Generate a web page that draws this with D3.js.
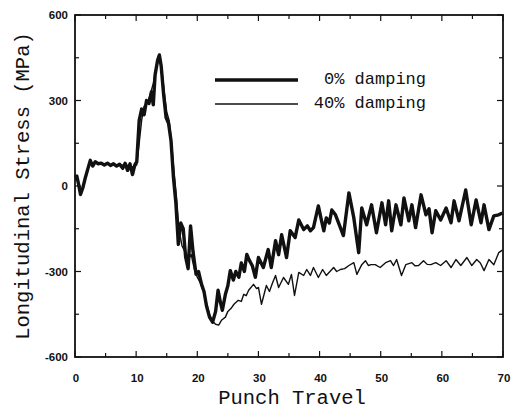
<!DOCTYPE html>
<html>
<head>
<meta charset="utf-8">
<script src="https://cdn.jsdelivr.net/npm/d3@7"></script>
<style>
  html, body { margin: 0; padding: 0; background: #fff; }
  svg { display: block; }
</style>
</head>
<body>
<svg id="chart" width="519" height="412"></svg>
<script>
// ---- data ----
const xTicks = [0, 10, 20, 30, 40, 50, 60, 70];
const xMinorTicks = [0, 5, 10, 15, 20, 25, 30, 35, 40, 45, 50, 55, 60, 65, 70];
const yTicks = [-600, -300, 0, 300, 600];
const yMinorTicks = [-600, -450, -300, -150, 0, 150, 300, 450, 600];
const seriesNames = ["0% damping", "40% damping"];

const travel0 = [0,0.3,0.6,0.9,1.3,1.7,2.1,2.5,2.9,3.3,3.8,4.3,4.8,5.3,5.8,6.3,6.8,7.3,7.8,8.2,8.6,9.0,9.4,9.8,10.1,10.5,10.9,11.3,11.7,12.1,12.5,12.8,13.1,13.5,13.8,14.1,14.5,14.9,15.3,15.7,16.1,16.5,16.9,17.3,17.7,18.1,18.5,18.9,19.3,19.8,20.2,20.7,21.1,21.5,22.0,22.5,23.0,23.4,23.8,24.1,24.6,25.0,25.4,25.9,26.3,26.8,27.2,27.7,28.1,28.5,29.0,29.5,30.0,30.8,31.6,32.1,32.8,33.3,33.8,34.6,35.2,36.0,36.6,37.4,38.0,38.5,39.0,39.8,40.3,40.7,41.1,41.6,42.0,42.6,43.4,43.9,44.8,45.6,46.4,46.9,47.7,48.5,49.3,50.2,50.8,51.3,51.8,52.5,53.3,53.8,54.6,55.1,55.7,56.6,57.4,57.9,58.4,59.0,59.8,60.7,61.5,62.0,62.8,63.9,64.8,65.6,66.4,66.9,67.7,68.5,69.3,69.9];
const stress0 = [30,35,5,-30,-5,30,60,90,70,85,78,80,74,80,72,78,70,76,62,80,55,78,40,75,85,230,270,250,300,290,330,285,390,440,460,420,320,240,220,160,30,-60,-205,-130,-150,-250,-290,-140,-230,-310,-300,-345,-370,-420,-460,-478,-440,-366,-410,-436,-380,-350,-297,-330,-300,-320,-270,-300,-240,-260,-280,-320,-251,-286,-223,-286,-192,-241,-171,-251,-157,-181,-119,-153,-140,-157,-146,-70,-120,-157,-112,-130,-84,-101,-146,-174,-24,-112,-234,-77,-136,-66,-164,-59,-136,-52,-157,-66,-136,-42,-122,-66,-146,-31,-101,-80,-164,-87,-119,-77,-129,-52,-122,-14,-136,-49,-129,-66,-153,-105,-101,-95];

const travel40 = [0,0.4,0.9,1.4,1.9,2.4,2.9,3.5,4.2,5.0,5.8,6.6,7.4,8.2,9.0,9.6,10.1,10.5,10.9,11.3,11.8,12.3,12.8,13.3,13.8,14.2,14.6,15.0,15.4,15.8,16.2,16.6,17.0,17.5,18.0,18.5,19.0,19.5,20.0,20.5,21.0,21.5,22.0,22.5,23.0,23.5,24.0,24.6,25.0,25.5,26.0,26.7,27.2,27.6,28.0,28.4,29.2,29.7,30.0,30.5,31.3,31.8,32.3,32.8,33.3,34.1,34.9,35.4,35.9,36.6,37.4,37.9,38.5,39.0,39.8,40.5,41.1,41.7,42.3,42.8,43.4,44.1,44.8,45.6,46.1,46.9,47.5,48.0,48.4,49.1,49.9,50.8,51.6,52.1,52.6,53.4,54.1,55.1,55.6,56.2,57.0,57.6,58.2,59.0,59.8,60.7,61.5,62.3,63.1,64.1,64.9,65.7,66.3,66.9,67.7,68.5,69.3,69.9];
const stress40 = [25,20,-25,0,40,80,75,82,78,78,75,74,72,75,70,65,75,150,230,280,290,320,360,420,450,410,330,260,230,150,50,-40,-150,-210,-230,-260,-240,-290,-320,-340,-370,-410,-450,-475,-485,-488,-470,-460,-440,-430,-415,-401,-405,-380,-385,-366,-345,-360,-356,-415,-349,-370,-340,-314,-356,-321,-345,-310,-384,-303,-314,-293,-314,-286,-321,-293,-314,-300,-286,-300,-293,-290,-279,-269,-310,-276,-262,-279,-276,-276,-286,-269,-262,-279,-258,-314,-276,-269,-280,-279,-262,-275,-276,-269,-279,-262,-286,-258,-279,-251,-279,-258,-270,-297,-258,-276,-234,-225];

// ---- layout ----
const svg = d3.select("#chart");
const pLeft = 75, pRight = 503, pTop = 15, pBottom = 357;
const x = d3.scaleLinear().domain([0, 70]).range([pLeft, pRight]);
const y = d3.scaleLinear().domain([-600, 600]).range([pBottom, pTop]);

const ink = "#111";
const tickFont = "Liberation Sans, Arial, sans-serif";
const monoFont = "Liberation Mono, Courier New, monospace";

// frame
svg.append("rect")
  .attr("x", pLeft).attr("y", pTop)
  .attr("width", pRight - pLeft).attr("height", pBottom - pTop)
  .attr("fill", "none").attr("stroke", ink).attr("stroke-width", 1.8);

// ticks (inward on all four sides)
const tg = svg.append("g").attr("stroke", ink).attr("stroke-width", 1.2);
xMinorTicks.forEach(v => {
  const len = xTicks.includes(v) ? 6 : 4;
  tg.append("line").attr("x1", x(v)).attr("x2", x(v)).attr("y1", pBottom).attr("y2", pBottom - len);
  tg.append("line").attr("x1", x(v)).attr("x2", x(v)).attr("y1", pTop).attr("y2", pTop + len);
});
yMinorTicks.forEach(v => {
  const len = yTicks.includes(v) ? 6 : 4;
  tg.append("line").attr("y1", y(v)).attr("y2", y(v)).attr("x1", pLeft).attr("x2", pLeft + len);
  tg.append("line").attr("y1", y(v)).attr("y2", y(v)).attr("x1", pRight).attr("x2", pRight - len);
});

// tick labels
svg.append("g").selectAll("text").data(xTicks).join("text")
  .attr("x", d => x(d) + 1).attr("y", pBottom + 25)
  .attr("text-anchor", "middle")
  .attr("font-family", tickFont).attr("font-size", 11.5).attr("font-weight", "bold")
  .attr("fill", ink)
  .text(d => d);

svg.append("g").selectAll("text").data(yTicks).join("text")
  .attr("x", pLeft - 7).attr("y", d => y(d) + 4)
  .attr("text-anchor", "end")
  .attr("font-family", tickFont).attr("font-size", 11.5).attr("font-weight", "bold")
  .attr("fill", ink)
  .text(d => d < 0 ? "-" + Math.abs(d) : d);

// axis titles
svg.append("text")
  .attr("x", 292).attr("y", 404)
  .attr("text-anchor", "middle")
  .attr("font-family", monoFont).attr("font-size", 20.5)
  .attr("fill", ink)
  .text("Punch Travel");

svg.append("text")
  .attr("transform", "translate(29,186) rotate(-90)")
  .attr("text-anchor", "middle")
  .attr("font-family", monoFont).attr("font-size", 20.5)
  .attr("fill", ink)
  .text("Longitudinal Stress (MPa)");

// series
const line = d3.line().x(d => x(d[0])).y(d => y(d[1]));
const d0 = travel0.map((t, i) => [t, stress0[i]]);
const d40 = travel40.map((t, i) => [t, stress40[i]]);

svg.append("path").datum(d40)
  .attr("d", line).attr("fill", "none")
  .attr("stroke", ink).attr("stroke-width", 1.4).attr("stroke-linejoin", "round");

svg.append("path").datum(d0)
  .attr("d", line).attr("fill", "none")
  .attr("stroke", ink).attr("stroke-width", 3.4).attr("stroke-linejoin", "round");

// legend
const legend = [
  { name: seriesNames[0], w: 3.4, ly: 80 },
  { name: seriesNames[1], w: 1.4, ly: 104 }
];
legend.forEach(l => {
  svg.append("line")
    .attr("x1", 215).attr("x2", 298).attr("y1", l.ly).attr("y2", l.ly)
    .attr("stroke", ink).attr("stroke-width", l.w);
  svg.append("text")
    .attr("x", 426).attr("y", l.ly + 4)
    .attr("text-anchor", "end")
    .attr("font-family", monoFont).attr("font-size", 17)
    .attr("fill", ink)
    .text(l.name);
});
</script>
</body>
</html>
